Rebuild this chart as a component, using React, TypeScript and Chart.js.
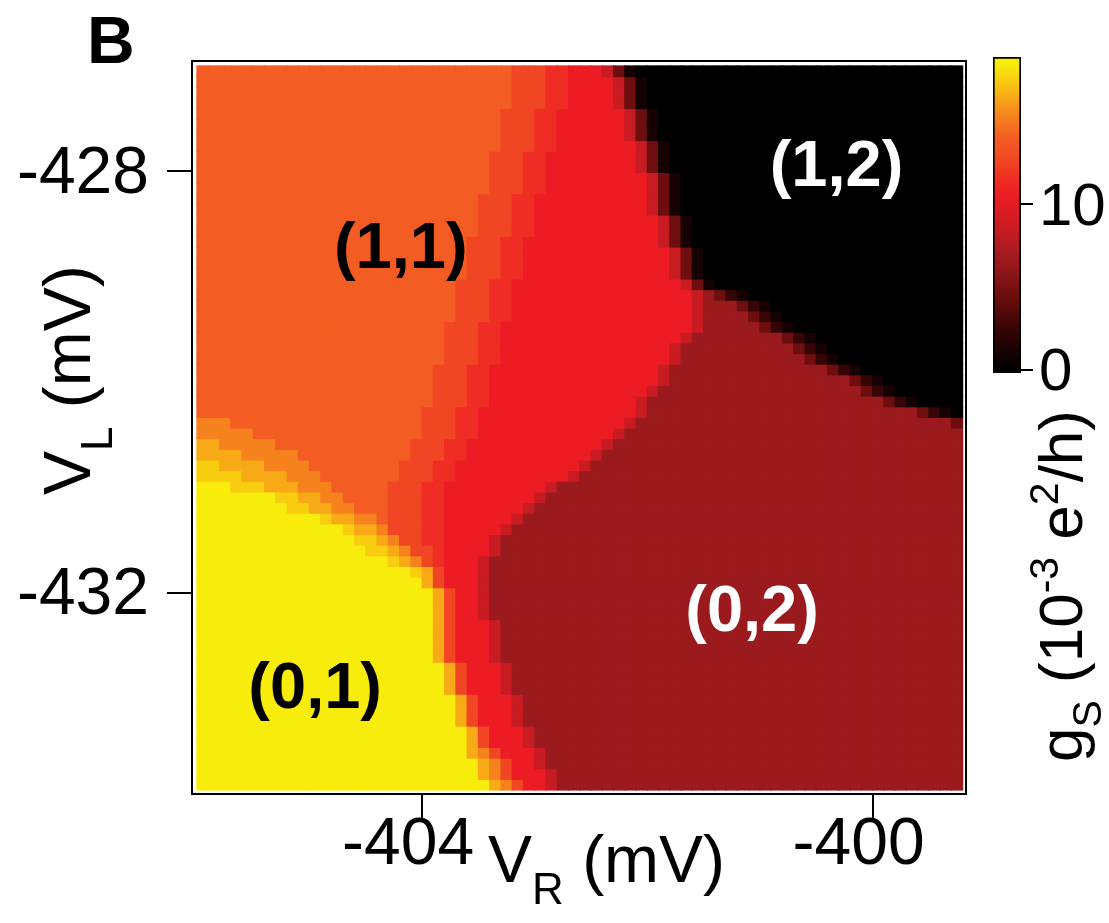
import React, { useEffect, useRef } from 'react';
import { Chart, registerables } from 'chart.js';

Chart.register(...registerables);

const FONT = '"Liberation Sans", Arial, Helvetica, sans-serif';

// ---- axes (mV) ----
const VR_START = -406.0; // left edge of first column
const VR_STEP = 0.1;
const N_COLS = 68;
const VL_TOP = -427.0; // top edge of first row
const VL_STEP = 0.101;
const X_MIN = -406.044;
const X_MAX = -399.17;
const Y_MIN = -433.906;
const Y_MAX = -426.953;
const X_TICKS = [-404, -400];
const Y_TICKS = [-432, -428];

// ---- colour scale (10^-3 e^2/h) ----
const CB_MIN = -0.2;
const CB_MAX = 18.9;
const CB_TICKS = [0, 10];
const CMAP_VALUES = [0, 1, 2.5, 4.5, 6.5, 8.5, 10.5, 11.5, 12.6, 14, 15.3, 16.5, 17.5, 18.5, 18.9];
const CMAP_COLORS = ['#000000', '#160202', '#370505', '#6e0e0e', '#9b1a1e', '#c81c22', '#ed1c24', '#ef2d24', '#f14623', '#f35c22', '#f6821e', '#f8aa16', '#f8cd0f', '#f7ec0c', '#f7f00a'];

// ---- conductance levels ----
const LEVEL_CODES = ['K', 'a', 'b', 'c', 'D', 'e', 'R', 'f', 'g', 'O', 'h', 'i', 'j', 'Y'];
const LEVEL_VALUES = [0, 1, 2.5, 4.5, 6.5, 8.5, 10.5, 11.5, 12.6, 14, 15.3, 16.5, 17.5, 18.5];

// run-length rows, top row (V_L = -427) first, columns from V_R = -406 rightwards
const HEAT_ROWS = [
  '28O 3g 2f 3R 1e 1c 1a 29K',
  '28O 3g 2f 4R 1e 1c 1a 28K',
  '28O 3g 2f 4R 1e 1c 1a 28K',
  '28O 3g 2f 4R 1e 1c 1a 28K',
  '27O 3g 2f 6R 1e 1c 1a 27K',
  '27O 3g 2f 6R 1e 1c 1a 27K',
  '27O 3g 2f 6R 1e 1c 1a 27K',
  '27O 3g 2f 7R 1e 1c 1a 26K',
  '26O 3g 2f 8R 1e 1c 1a 26K',
  '26O 3g 2f 8R 1e 1c 1a 26K',
  '26O 3g 2f 9R 1e 1c 1a 25K',
  '26O 3g 2f 9R 1e 1c 1a 25K',
  '25O 3g 2f 10R 1e 1c 1a 25K',
  '25O 3g 2f 10R 1e 1c 1a 25K',
  '25O 3g 2f 11R 1e 1c 1a 24K',
  '25O 3g 2f 11R 1e 1c 1a 24K',
  '24O 3g 2f 12R 1e 1c 1a 24K',
  '24O 3g 2f 13R 1e 1c 1a 23K',
  '24O 3g 2f 13R 1e 1c 1a 23K',
  '24O 3g 2f 13R 1e 1c 1a 23K',
  '23O 3g 2f 15R 1e 1c 1a 22K',
  '23O 3g 2f 16R 1e 1D 1c 1b 1a 19K',
  '23O 3g 2f 16R 1e 3D 1c 1b 1a 17K',
  '23O 3g 2f 16R 1e 4D 1c 1b 1a 16K',
  '22O 3g 2f 17R 1e 5D 1c 1b 1a 15K',
  '22O 3g 2f 16R 1e 8D 1c 1b 1a 13K',
  '22O 3g 2f 15R 1e 10D 1c 1b 1a 12K',
  '22O 3g 2f 15R 1e 11D 1c 1b 1a 11K',
  '21O 3g 2f 15R 1e 14D 1c 1b 1a 9K',
  '21O 3g 2f 15R 1e 16D 1c 1b 1a 7K',
  '21O 3g 2f 14R 1e 18D 1c 1b 1a 6K',
  '21O 3g 2f 13R 1e 21D 1c 1b 1a 4K',
  '20O 3g 2f 14R 1e 24D 1c 1b 1a 1K',
  '3h 17O 3g 2f 13R 1e 28D 1c',
  '5h 15O 3g 2f 12R 1e 30D',
  '2i 5h 12O 3g 2f 12R 1e 31D',
  '4i 5h 10O 3g 2f 11R 1e 32D',
  '2j 4i 4h 8O 3g 2f 11R 1e 33D',
  '4j 4i 3h 7O 3g 2f 10R 1e 34D',
  '3Y 3j 3i 3h 5O 3g 2f 9R 1e 36D',
  '7Y 2j 2i 2h 4O 3g 2f 8R 1e 37D',
  '8Y 2j 2i 2h 3O 3g 2f 7R 1e 38D',
  '11Y 1j 2i 2h 1O 3g 2f 6R 1e 39D',
  '13Y 1j 2i 1h 3g 2f 5R 1e 40D',
  '14Y 2j 1i 1h 2g 2f 4R 1e 41D',
  '15Y 2j 1i 1h 2g 1f 4R 1e 41D',
  '17Y 1j 1i 1h 1g 1f 3R 1e 42D',
  '19Y 1j 1i 1g 3R 1e 42D',
  '20Y 1i 1g 3R 1e 42D',
  '21Y 1i 1g 2R 1e 42D',
  '21Y 1i 1g 2R 1e 42D',
  '21Y 1i 1g 2R 1e 42D',
  '21Y 1i 1g 3R 1e 41D',
  '21Y 1i 1g 3R 1e 41D',
  '21Y 1i 1g 3R 1e 41D',
  '21Y 1i 1g 3R 1e 41D',
  '22Y 1i 1g 3R 1e 40D',
  '22Y 1i 1g 3R 1e 40D',
  '22Y 1i 1g 3R 1e 40D',
  '23Y 1i 1g 3R 1e 39D',
  '23Y 1i 1g 3R 1e 39D',
  '23Y 1i 1g 3R 1e 39D',
  '24Y 1i 1g 3R 1e 38D',
  '24Y 1i 1g 3R 1e 38D',
  '24Y 1i 1h 1g 3R 1e 37D',
  '25Y 1i 1h 1g 2R 1e 37D',
  '25Y 1i 1h 1g 3R 1e 36D',
  '26Y 1i 1h 1g 2R 1e 36D',
];

// ---- region labels ----
const REGION_LABELS = ['(1,1)', '(1,2)', '(0,2)', '(0,1)'];
const REGION_VR = [-404.19, -400.32, -401.07, -404.95];
const REGION_VL = [-428.76, -427.98, -432.2, -432.93];
const REGION_COLORS = ['#000000', '#ffffff', '#ffffff', '#000000'];

function hexToRgb(h: string) {
  const n = parseInt(h.slice(1), 16);
  return [(n >> 16) & 255, (n >> 8) & 255, n & 255];
}

function valueToColor(v: number) {
  if (v <= CMAP_VALUES[0]) return CMAP_COLORS[0];
  const last = CMAP_VALUES.length - 1;
  if (v >= CMAP_VALUES[last]) return CMAP_COLORS[last];
  for (let i = 0; i < last; i++) {
    const a = CMAP_VALUES[i];
    const b = CMAP_VALUES[i + 1];
    if (v >= a && v <= b) {
      const t = (v - a) / (b - a);
      const ca = hexToRgb(CMAP_COLORS[i]);
      const cb = hexToRgb(CMAP_COLORS[i + 1]);
      const c = ca.map((x, k) => Math.round(x + (cb[k] - x) * t));
      return `rgb(${c[0]},${c[1]},${c[2]})`;
    }
  }
  return CMAP_COLORS[last];
}

function decodeRow(row: string) {
  const cells: number[] = [];
  row.trim().split(/\s+/).forEach((tok) => {
    const n = parseInt(tok, 10);
    const code = tok.replace(/^\d+/, '');
    const v = LEVEL_VALUES[LEVEL_CODES.indexOf(code)];
    for (let i = 0; i < n; i++) cells.push(v);
  });
  while (cells.length < N_COLS) cells.push(cells[cells.length - 1]);
  return cells.slice(0, N_COLS);
}

function buildDatasets() {
  return HEAT_ROWS.map((row, r) => {
    const vals = decodeRow(row);
    const top = VL_TOP - r * VL_STEP;
    const bottom = top - VL_STEP;
    return {
      data: vals.map((_, c) => ({ x: VR_START + (c + 0.5) * VR_STEP, y: [bottom, top] })),
      backgroundColor: vals.map(valueToColor),
      borderWidth: 0,
      grouped: false,
      barPercentage: 1,
      categoryPercentage: 1,
      inflateAmount: 0.6,
    };
  });
}

type Seg = { text: string; size: number; dy?: number; bold?: boolean };

function drawRich(ctx: CanvasRenderingContext2D, segs: Seg[], x: number, y: number, angle: number) {
  ctx.save();
  ctx.translate(x, y);
  ctx.rotate(angle);
  ctx.textAlign = 'left';
  ctx.textBaseline = 'alphabetic';
  ctx.fillStyle = '#000';
  let cx = 0;
  segs.forEach((s) => {
    ctx.font = `${s.bold ? 'bold ' : ''}${s.size}px ${FONT}`;
    ctx.fillText(s.text, cx, s.dy || 0);
    cx += ctx.measureText(s.text).width;
  });
  ctx.restore();
}

const framePlugin = {
  id: 'frame',
  afterDatasetsDraw(chart: any) {
    const { ctx, chartArea } = chart;
    ctx.save();
    ctx.strokeStyle = '#000';
    ctx.lineWidth = 2;
    ctx.strokeRect(chartArea.left, chartArea.top, chartArea.right - chartArea.left, chartArea.bottom - chartArea.top);
    ctx.restore();
  },
};

const textPlugin = {
  id: 'texts',
  afterDraw(chart: any) {
    const ctx = chart.ctx as CanvasRenderingContext2D;
    const xs = chart.scales.x;
    const ys = chart.scales.y;
    // panel letter
    drawRich(ctx, [{ text: 'B', size: 66, bold: true }], 87, 63, 0);
    // axis titles
    drawRich(ctx, [
      { text: 'V', size: 66 },
      { text: 'R', size: 44, dy: 22 },
      { text: ' (mV)', size: 66 },
    ], 488, 882, 0);
    drawRich(ctx, [
      { text: 'V', size: 66 },
      { text: 'L', size: 44, dy: 22 },
      { text: ' (mV)', size: 66 },
    ], 90, 495, -Math.PI / 2);
    drawRich(ctx, [
      { text: 'g', size: 62 },
      { text: 'S', size: 41, dy: 19 },
      { text: ' (10', size: 62 },
      { text: '-3', size: 41, dy: -24 },
      { text: ' e', size: 62 },
      { text: '2', size: 41, dy: -24 },
      { text: '/h)', size: 62 },
    ], 1082, 762, -Math.PI / 2);
    // region labels
    ctx.save();
    ctx.font = `bold 65px ${FONT}`;
    ctx.textAlign = 'center';
    ctx.textBaseline = 'alphabetic';
    REGION_LABELS.forEach((t, i) => {
      ctx.fillStyle = REGION_COLORS[i];
      ctx.fillText(t, xs.getPixelForValue(REGION_VR[i]), ys.getPixelForValue(REGION_VL[i]) + 17);
    });
    ctx.restore();
  },
};

export default function App() {
  const mainRef = useRef<HTMLCanvasElement>(null);
  const cbRef = useRef<HTMLCanvasElement>(null);

  useEffect(() => {
    const tickFont = { family: FONT, size: 66, lineHeight: 1 };
    const main = new Chart(mainRef.current as HTMLCanvasElement, {
      type: 'bar',
      data: { datasets: buildDatasets() as any },
      options: {
        animation: false,
        responsive: false,
        events: [],
        layout: { padding: { left: 0, top: 61, right: 143, bottom: 0 } },
        plugins: { legend: { display: false }, tooltip: { enabled: false } },
        scales: {
          x: {
            type: 'linear',
            min: X_MIN,
            max: X_MAX,
            offset: false,
            grid: { offset: false, drawOnChartArea: false, drawTicks: true, tickLength: 25, color: '#000', lineWidth: 2 },
            border: { display: false },
            ticks: { font: tickFont, color: '#000', padding: -6, labelOffset: -14, maxRotation: 0, autoSkip: false, callback: (v: any) => `${v}` },
            afterBuildTicks: (s: any) => { s.ticks = X_TICKS.map((v) => ({ value: v })); },
            afterFit: (s: any) => { s.height = 129; },
          },
          y: {
            type: 'linear',
            min: Y_MIN,
            max: Y_MAX,
            grid: { drawOnChartArea: false, drawTicks: true, tickLength: 25, color: '#000', lineWidth: 2 },
            border: { display: false },
            ticks: { font: tickFont, color: '#000', padding: 18, labelOffset: 3, autoSkip: false, callback: (v: any) => `${v}` },
            afterBuildTicks: (s: any) => { s.ticks = Y_TICKS.map((v) => ({ value: v })); },
            afterFit: (s: any) => { s.width = 192; },
          },
        },
      } as any,
      plugins: [framePlugin, textPlugin],
    });

    const cb = new Chart(cbRef.current as HTMLCanvasElement, {
      type: 'bar',
      data: {
        labels: ['g'],
        datasets: [{
          data: [[CB_MIN, CB_MAX]],
          backgroundColor: (c: any) => {
            const chart = c.chart;
            const { ctx, chartArea, scales } = chart;
            if (!chartArea) return '#000';
            const y0 = scales.y.getPixelForValue(CB_MIN);
            const y1 = scales.y.getPixelForValue(CB_MAX);
            const g = ctx.createLinearGradient(0, y0, 0, y1);
            g.addColorStop(0, CMAP_COLORS[0]);
            CMAP_VALUES.forEach((v, i) => {
              const t = (v - CB_MIN) / (CB_MAX - CB_MIN);
              if (t >= 0 && t <= 1) g.addColorStop(t, CMAP_COLORS[i]);
            });
            return g;
          },
          borderColor: '#000',
          borderWidth: 2,
          borderSkipped: false,
          barPercentage: 1,
          categoryPercentage: 1,
        }] as any,
      },
      options: {
        animation: false,
        responsive: false,
        events: [],
        layout: { padding: { left: 53, top: 37, right: 0, bottom: 47 } },
        plugins: { legend: { display: false }, tooltip: { enabled: false } },
        scales: {
          x: { display: false },
          y: {
            position: 'right',
            min: CB_MIN,
            max: CB_MAX,
            grid: { drawOnChartArea: false, drawTicks: true, tickLength: 12, color: '#000', lineWidth: 2 },
            border: { display: false },
            ticks: { font: { family: FONT, size: 60, lineHeight: 1 }, color: '#000', padding: 6, labelOffset: 4, autoSkip: false, callback: (v: any) => `${v}` },
            afterBuildTicks: (s: any) => { s.ticks = CB_TICKS.map((v) => ({ value: v })); },
            afterFit: (s: any) => { s.width = 88; },
          },
        },
      } as any,
    });

    return () => {
      main.destroy();
      cb.destroy();
    };
  }, []);

  return (
    <div style={{ position: 'absolute', left: 0, top: 0, width: 1109, height: 923, overflow: 'hidden', background: '#ffffff' }}>
      <canvas ref={mainRef} width={1109} height={923} style={{ position: 'absolute', left: 0, top: 0, width: 1109, height: 923 }} />
      <canvas ref={cbRef} width={169} height={400} style={{ position: 'absolute', left: 940, top: 20, width: 169, height: 400 }} />
    </div>
  );
}
